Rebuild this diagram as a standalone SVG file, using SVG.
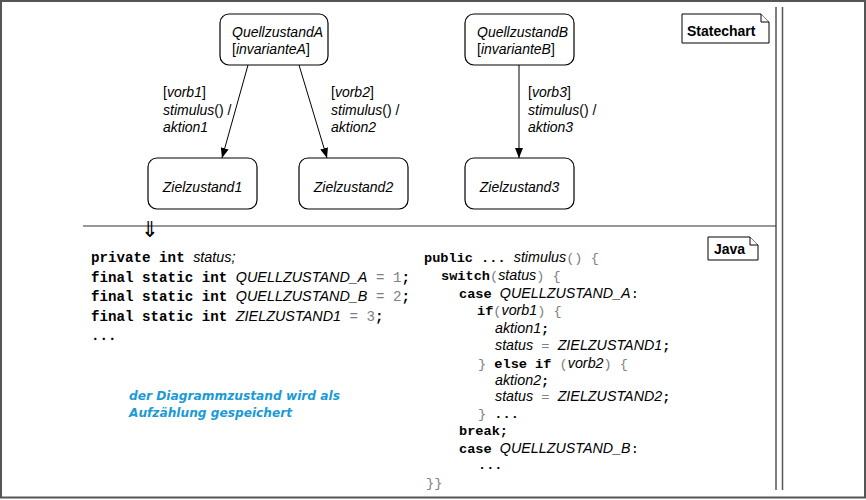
<svg xmlns="http://www.w3.org/2000/svg" width="866" height="500" viewBox="0 0 866 500">
<style>
.box{fill:#fff;stroke:#000;stroke-width:1.2}
.note{fill:#fff;stroke:#000;stroke-width:1}
.lbl{font-family:"Liberation Sans",Arial,sans-serif;font-size:14px;fill:#000}
.i{font-style:italic}
.b{font-weight:bold}
.edge{stroke:#000;stroke-width:1;fill:none}
.code{font-size:14.2px;fill:#000}
.codeR{font-size:13.6px;fill:#000}
.kw{font-family:"Liberation Mono","Courier New",monospace;font-weight:bold}
.it{font-family:"Liberation Sans",Arial,sans-serif;font-style:italic}
.code .it{font-size:14.4px}
.codeR .it{font-size:14.3px}
.g{font-family:"Liberation Mono","Courier New",monospace;fill:#808080}
.m{font-family:"Liberation Mono","Courier New",monospace}
.blue{font-family:"DejaVu Sans",sans-serif;font-weight:bold;font-style:italic;font-size:12.5px;fill:#1a9ad6}
</style>
<defs>
<marker id="ah" markerWidth="10" markerHeight="8" refX="10" refY="4" orient="auto" markerUnits="userSpaceOnUse">
<path d="M0,0 L10,4 L0,8 Z" fill="#000"/>
</marker>
</defs>
<rect x="1" y="1" width="864" height="496.5" fill="#fff" stroke="#555" stroke-width="2"/>
<g id="frame">
<line x1="776" y1="7" x2="776" y2="490" stroke="#555" stroke-width="1.5"/>
<line x1="782.5" y1="7" x2="782.5" y2="490" stroke="#555" stroke-width="1.5"/>
<line x1="83" y1="226" x2="776" y2="226" stroke="#333" stroke-width="1.2"/>
<text x="150" y="237" text-anchor="middle" font-family="DejaVu Sans,sans-serif" font-size="22" fill="#000">⇓</text>
</g>
<g id="connectors">
<line class="edge" x1="248" y1="65" x2="222" y2="158" marker-end="url(#ah)"/>
<line class="edge" x1="299" y1="65" x2="327" y2="158" marker-end="url(#ah)"/>
<line class="edge" x1="519" y1="65" x2="519" y2="158" marker-end="url(#ah)"/>
<text class="lbl" x="163" y="97">[<tspan class="i">vorb1</tspan>]</text>
<text class="lbl" x="163" y="114.5"><tspan class="i">stimulus</tspan>() /</text>
<text class="lbl i" x="163" y="132">aktion1</text>
<text class="lbl" x="331" y="97">[<tspan class="i">vorb2</tspan>]</text>
<text class="lbl" x="331" y="114.5"><tspan class="i">stimulus</tspan>() /</text>
<text class="lbl i" x="331" y="132">aktion2</text>
<text class="lbl" x="528" y="97">[<tspan class="i">vorb3</tspan>]</text>
<text class="lbl" x="528" y="114.5"><tspan class="i">stimulus</tspan>() /</text>
<text class="lbl i" x="528" y="132">aktion3</text>
</g>
<g id="QuellzustandA">
<rect class="box" x="220" y="14" width="108" height="51" rx="9"/>
<text class="lbl i" x="232" y="37">QuellzustandA</text>
<text class="lbl" x="232" y="54">[<tspan class="i">invarianteA</tspan>]</text>
</g>
<g id="QuellzustandB">
<rect class="box" x="465" y="14" width="109" height="51" rx="9"/>
<text class="lbl i" x="477" y="37">QuellzustandB</text>
<text class="lbl" x="477" y="54">[<tspan class="i">invarianteB</tspan>]</text>
</g>
<g id="Zielzustand1">
<rect class="box" x="148" y="158" width="109" height="51" rx="9"/>
<text class="lbl i" x="202.5" y="192" text-anchor="middle">Zielzustand1</text>
</g>
<g id="Zielzustand2">
<rect class="box" x="299" y="158" width="109" height="51" rx="9"/>
<text class="lbl i" x="353.5" y="192" text-anchor="middle">Zielzustand2</text>
</g>
<g id="Zielzustand3">
<rect class="box" x="465" y="158" width="109" height="51" rx="9"/>
<text class="lbl i" x="519.5" y="192" text-anchor="middle">Zielzustand3</text>
</g>
<g id="StatechartNote">
<path class="note" d="M682,14 H761 L769,22 V43 H682 Z"/>
<path class="note" d="M761,14 V22 H769" stroke-width="0.8"/>
<text class="lbl b" x="687" y="36">Statechart</text>
</g>
<g id="JavaNote">
<path class="note" d="M708,237 H750 L758,245 V260 H708 Z"/>
<path class="note" d="M750,237 V245 H758" stroke-width="0.8"/>
<text class="lbl b" x="714" y="254">Java</text>
</g>
<g id="codeLeft" class="code">
<text xml:space="preserve" x="91" y="262"><tspan class="kw">private int </tspan><tspan class="it">status;</tspan></text>
<text xml:space="preserve" x="91" y="282"><tspan class="kw">final static int </tspan><tspan class="it">QUELLZUSTAND_A</tspan><tspan class="g"> = 1</tspan><tspan class="kw">;</tspan></text>
<text xml:space="preserve" x="91" y="301"><tspan class="kw">final static int </tspan><tspan class="it">QUELLZUSTAND_B</tspan><tspan class="g"> = 2</tspan><tspan class="kw">;</tspan></text>
<text xml:space="preserve" x="91" y="320.5"><tspan class="kw">final static int </tspan><tspan class="it">ZIELZUSTAND1</tspan><tspan class="g"> = 3</tspan><tspan class="kw">;</tspan></text>
<text xml:space="preserve" x="91" y="340"><tspan class="kw">...</tspan></text>
</g>
<g id="codeRight" class="codeR">
<text xml:space="preserve" x="424" y="262"><tspan class="kw">public ... </tspan><tspan class="it">stimulus</tspan><tspan class="g">() {</tspan></text>
<text xml:space="preserve" x="441" y="279.5"><tspan class="kw">switch</tspan><tspan class="g">(</tspan><tspan class="it">status</tspan><tspan class="g">) {</tspan></text>
<text xml:space="preserve" x="459" y="297.5"><tspan class="kw">case </tspan><tspan class="it">QUELLZUSTAND_A</tspan><tspan class="m">:</tspan></text>
<text xml:space="preserve" x="477" y="315"><tspan class="kw">if</tspan><tspan class="g">(</tspan><tspan class="it">vorb1</tspan><tspan class="g">) {</tspan></text>
<text xml:space="preserve" x="495" y="332.5"><tspan class="it">aktion1</tspan><tspan class="kw">;</tspan></text>
<text xml:space="preserve" x="495" y="350"><tspan class="it">status</tspan><tspan class="g"> = </tspan><tspan class="it">ZIELZUSTAND1</tspan><tspan class="kw">;</tspan></text>
<text xml:space="preserve" x="478" y="367.5"><tspan class="g">} </tspan><tspan class="kw">else if</tspan><tspan class="g"> (</tspan><tspan class="it">vorb2</tspan><tspan class="g">) {</tspan></text>
<text xml:space="preserve" x="495" y="384.5"><tspan class="it">aktion2</tspan><tspan class="kw">;</tspan></text>
<text xml:space="preserve" x="495" y="401"><tspan class="it">status</tspan><tspan class="g"> = </tspan><tspan class="it">ZIELZUSTAND2</tspan><tspan class="kw">;</tspan></text>
<text xml:space="preserve" x="478" y="418"><tspan class="g">} </tspan><tspan class="kw">...</tspan></text>
<text xml:space="preserve" x="459" y="435"><tspan class="kw">break;</tspan></text>
<text xml:space="preserve" x="459" y="452.5"><tspan class="kw">case </tspan><tspan class="it">QUELLZUSTAND_B</tspan><tspan class="m">:</tspan></text>
<text xml:space="preserve" x="478" y="469"><tspan class="kw">...</tspan></text>
<text xml:space="preserve" x="426" y="487"><tspan class="g">}}</tspan></text>
</g>
<g id="comment">
<text class="blue" x="129" y="399.5" textLength="211" lengthAdjust="spacingAndGlyphs">der Diagrammzustand wird als</text>
<text class="blue" x="129" y="417" textLength="163" lengthAdjust="spacingAndGlyphs">Aufzählung gespeichert</text>
</g>
</svg>
